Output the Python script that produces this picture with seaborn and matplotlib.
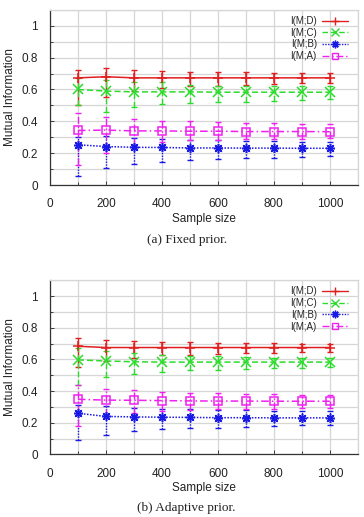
import numpy as np
import pandas as pd
import matplotlib
matplotlib.use("Agg")
import matplotlib.pyplot as plt
from matplotlib.ticker import MultipleLocator
from matplotlib.lines import Line2D
import seaborn as sns

# ── Data ──────────────────────────────────────────────────────
SIZES = [100, 200, 300, 400, 500, 600, 700, 800, 900, 1000]
LABELS = ["I(M;D)", "I(M;C)", "I(M;B)", "I(M;A)"]

# (a) Fixed prior
FIX_D    = [0.673, 0.680, 0.673, 0.673, 0.673, 0.673, 0.673, 0.673, 0.673, 0.673]
FIX_D_LO = [0.500, 0.550, 0.590, 0.610, 0.625, 0.625, 0.630, 0.635, 0.640, 0.640]
FIX_D_HI = [0.725, 0.733, 0.720, 0.717, 0.712, 0.712, 0.708, 0.706, 0.705, 0.702]
FIX_C    = [0.600, 0.590, 0.585, 0.585, 0.585, 0.583, 0.583, 0.583, 0.583, 0.583]
FIX_C_LO = [0.500, 0.460, 0.490, 0.510, 0.515, 0.520, 0.520, 0.530, 0.535, 0.540]
FIX_C_HI = [0.670, 0.660, 0.650, 0.645, 0.630, 0.620, 0.625, 0.620, 0.620, 0.620]
FIX_B    = [0.253, 0.242, 0.237, 0.236, 0.233, 0.233, 0.232, 0.232, 0.231, 0.231]
FIX_B_LO = [0.055, 0.105, 0.130, 0.148, 0.158, 0.163, 0.168, 0.172, 0.178, 0.182]
FIX_B_HI = [0.300, 0.310, 0.295, 0.290, 0.285, 0.280, 0.277, 0.275, 0.272, 0.270]
FIX_A    = [0.343, 0.345, 0.340, 0.340, 0.338, 0.338, 0.336, 0.336, 0.336, 0.335]
FIX_A_LO = [0.125, 0.200, 0.250, 0.270, 0.280, 0.285, 0.290, 0.290, 0.292, 0.295]
FIX_A_HI = [0.450, 0.430, 0.415, 0.405, 0.400, 0.395, 0.390, 0.387, 0.385, 0.382]

# (b) Adaptive prior
ADA_D    = [0.683, 0.675, 0.675, 0.675, 0.675, 0.675, 0.675, 0.675, 0.675, 0.675]
ADA_D_LO = [0.550, 0.590, 0.610, 0.625, 0.626, 0.635, 0.640, 0.640, 0.645, 0.645]
ADA_D_HI = [0.735, 0.720, 0.715, 0.710, 0.708, 0.705, 0.703, 0.703, 0.700, 0.700]
ADA_C    = [0.597, 0.590, 0.585, 0.583, 0.583, 0.583, 0.583, 0.583, 0.583, 0.583]
ADA_C_LO = [0.440, 0.490, 0.510, 0.520, 0.530, 0.535, 0.540, 0.545, 0.545, 0.550]
ADA_C_HI = [0.670, 0.650, 0.640, 0.625, 0.620, 0.620, 0.615, 0.612, 0.610, 0.610]
ADA_B    = [0.260, 0.240, 0.237, 0.235, 0.234, 0.232, 0.232, 0.231, 0.231, 0.231]
ADA_B_LO = [0.090, 0.125, 0.145, 0.158, 0.165, 0.170, 0.175, 0.180, 0.183, 0.185]
ADA_B_HI = [0.310, 0.305, 0.295, 0.290, 0.285, 0.280, 0.280, 0.275, 0.275, 0.272]
ADA_A    = [0.348, 0.343, 0.342, 0.340, 0.338, 0.337, 0.337, 0.336, 0.336, 0.336]
ADA_A_LO = [0.180, 0.240, 0.260, 0.275, 0.280, 0.285, 0.290, 0.290, 0.295, 0.295]
ADA_A_HI = [0.440, 0.415, 0.405, 0.395, 0.390, 0.385, 0.383, 0.380, 0.375, 0.375]

# ── Style ─────────────────────────────────────────────────────
sns.set_theme(style="white")
plt.rcParams["font.family"] = ["Liberation Sans", "DejaVu Sans"]

GRID_C = "#d6d6d6"
TEXT_C = "#222222"
STYLES = [  # color, marker, linestyle, face
    ("#e02020", "+", "-", None),
    ("#2cdc2c", "x", (0, (4, 2)), None),
    ("#1a1ae6", (8, 2, 0), (0, (1, 1)), None),
    ("#f020f0", "s", (0, (5, 2, 1, 2)), "none"),
]


def draw_panel(ax, series):
    for (mean, lo, hi), (c, m, ls, fc) in zip(series, STYLES):
        mean = np.array(mean); lo = np.array(lo); hi = np.array(hi)
        eb = ax.errorbar(SIZES, mean, yerr=[mean - lo, hi - mean], fmt="none",
                         ecolor=c, elinewidth=1.0, capsize=2.3, capthick=1.0, zorder=2)
        eb[2][0].set_linestyle(ls)
        sns.lineplot(x=SIZES, y=mean, ax=ax, color=c, linestyle=ls, linewidth=1.1,
                     marker=m, markersize=6.5 if m != "s" else 5.5,
                     markeredgecolor=c, markeredgewidth=1.1,
                     markerfacecolor=(fc if fc else c), legend=False, zorder=3)

    ax.set_xlim(0, 1100)
    ax.set_ylim(0, 1.1)
    ax.xaxis.set_major_locator(MultipleLocator(200))
    ax.xaxis.set_minor_locator(MultipleLocator(100))
    ax.yaxis.set_minor_locator(MultipleLocator(0.1))
    ax.set_yticks([0, 0.2, 0.4, 0.6, 0.8, 1.0])
    ax.set_yticklabels(["0", "0.2", "0.4", "0.6", "0.8", "1"])
    ax.grid(which="both", color=GRID_C, linewidth=0.9)
    ax.set_axisbelow(True)
    ax.tick_params(which="both", direction="in", labelsize=8.5, colors=TEXT_C,
                   bottom=True, left=True)
    ax.tick_params(axis="x", which="both", pad=9.5)
    ax.tick_params(axis="y", which="both", pad=8.5)
    ax.tick_params(which="major", length=3, width=0.6)
    ax.tick_params(which="minor", length=2, width=0.6)
    for s in ["left", "bottom"]:
        ax.spines[s].set_color("#333333"); ax.spines[s].set_linewidth(0.9)
    for s in ["top", "right"]:
        ax.spines[s].set_color(GRID_C); ax.spines[s].set_linewidth(0.9)
    ax.set_xlabel("Sample size", fontsize=8.5, labelpad=2, color=TEXT_C)
    ax.set_ylabel("Mutual Information", fontsize=8.5, labelpad=4, color=TEXT_C)

    handles = [Line2D([], [], color=c, linestyle=ls, linewidth=1.0, marker=m,
                      markersize=5.5 if m != "s" else 4.5, markeredgecolor=c,
                      markerfacecolor=(fc if fc else c), markeredgewidth=1.0)
               for c, m, ls, fc in STYLES]
    ax.legend(handles, LABELS, loc="upper right", bbox_to_anchor=(0.968, 0.965),
              frameon=False, markerfirst=False, fontsize=7, handlelength=2.7,
              handletextpad=0.5, labelspacing=0.18, borderpad=0, borderaxespad=0)


fig = plt.figure(figsize=(3.64, 5.17), dpi=100)
ax1 = fig.add_axes([0.137, 0.642, 0.846, 0.339])
ax2 = fig.add_axes([0.137, 0.121, 0.846, 0.337])

draw_panel(ax1, [(FIX_D, FIX_D_LO, FIX_D_HI), (FIX_C, FIX_C_LO, FIX_C_HI),
                 (FIX_B, FIX_B_LO, FIX_B_HI), (FIX_A, FIX_A_LO, FIX_A_HI)])
draw_panel(ax2, [(ADA_D, ADA_D_LO, ADA_D_HI), (ADA_C, ADA_C_LO, ADA_C_HI),
                 (ADA_B, ADA_B_LO, ADA_B_HI), (ADA_A, ADA_A_LO, ADA_A_HI)])

fig.text(0.513, 0.536, "(a) Fixed prior.", ha="center", va="center",
         fontsize=9.5, family=["Liberation Serif", "DejaVu Serif"], color=TEXT_C)
fig.text(0.513, 0.017, "(b) Adaptive prior.", ha="center", va="center",
         fontsize=9.5, family=["Liberation Serif", "DejaVu Serif"], color=TEXT_C)

fig.savefig("out.png", dpi=100, facecolor="white")
